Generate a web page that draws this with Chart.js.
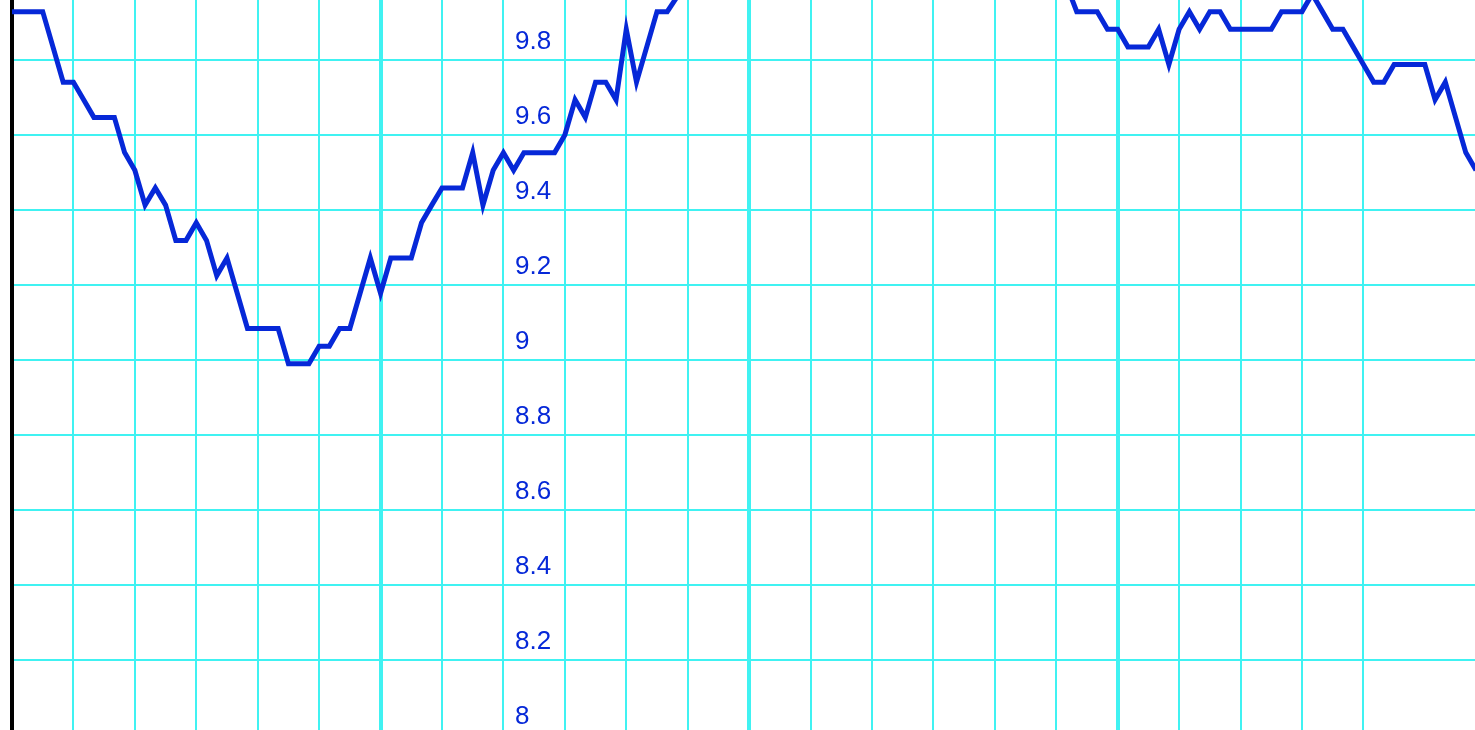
<!DOCTYPE html>
<html lang="en">
<head>
    <meta charset="UTF-8">
    <title>Line Chart</title>
    <script src="https://cdn.jsdelivr.net/npm/chart.js"></script>
    <style>
        html, body {
            margin: 0;
            padding: 0;
            overflow: hidden;
            background: #ffffff;
        }

        /* a little taller than the window: the 8 gridline sits just below the fold */
        .chart-container {
            position: absolute;
            left: 0;
            top: 0;
            width: 1475px;
            height: 735px;
        }
    </style>
</head>
<body>
    <div class="chart-container">
        <canvas id="line-chart"></canvas>
    </div>

    <script>
        // Series values, one per sample (the middle run is above the visible window)
        const values = [
            9.929, 9.929, 9.929, 9.929, 9.835, 9.741, 9.741, 9.694, 9.647, 9.647,
            9.647, 9.553, 9.506, 9.413, 9.459, 9.413, 9.319, 9.319, 9.366, 9.319,
            9.225, 9.272, 9.178, 9.084, 9.084, 9.084, 9.084, 8.990, 8.990, 8.990,
            9.037, 9.037, 9.084, 9.084, 9.178, 9.272, 9.178, 9.272, 9.272, 9.272,
            9.366, 9.413, 9.459, 9.459, 9.459, 9.553, 9.413, 9.506, 9.553, 9.506,
            9.553, 9.553, 9.553, 9.553, 9.600, 9.694, 9.647, 9.741, 9.741, 9.694,
            9.882, 9.741, 9.835, 9.929, 9.929, 9.970, 10.02, 10.06, 10.10, 10.15,
            10.20, 10.24, 10.29, 10.33, 10.36, 10.40, 10.43, 10.45, 10.48, 10.50,
            10.51, 10.52, 10.52, 10.50, 10.49, 10.47, 10.45, 10.42, 10.40, 10.37,
            10.33, 10.30, 10.27, 10.24, 10.20, 10.17, 10.14, 10.11, 10.08, 10.06,
            10.04, 10.02, 10.01, 10.00, 9.929, 9.929, 9.929, 9.882, 9.882, 9.835,
            9.835, 9.835, 9.882, 9.788, 9.882, 9.929, 9.882, 9.929, 9.929, 9.882,
            9.882, 9.882, 9.882, 9.882, 9.929, 9.929, 9.929, 9.976, 9.929, 9.882,
            9.882, 9.835, 9.788, 9.741, 9.741, 9.788, 9.788, 9.788, 9.788, 9.694,
            9.741, 9.647, 9.553, 9.506
        ];

        // Sample numbers along the x axis
        const samples = values.map((v, i) => i);

        // Visible window
        const xMin = 0;
        const xMax = 142.9;
        const yMin = 8;
        const yMax = 9.96;

        // Grid steps
        const xStep = 6;
        const xMajorStep = 36;
        const yStep = 0.2;

        const lineColor = '#0628d8';
        const gridColor = '#40f2f2';

        function isMultiple(value, step) {
            const q = value / step;
            return Math.abs(q - Math.round(q)) < 1e-6;
        }

        const ctx = document.getElementById('line-chart').getContext('2d');
        const chart = new Chart(ctx, {
            type: 'line',
            data: {
                labels: samples,
                datasets: [{
                    data: values,
                    borderColor: lineColor,
                    borderWidth: 5,
                    pointRadius: 0,
                    tension: 0,
                    fill: false
                }]
            },
            options: {
                responsive: true,
                maintainAspectRatio: false,
                animation: false,
                layout: {
                    padding: { left: 12, top: 0, right: 0, bottom: 0 }
                },
                plugins: {
                    legend: { display: false },
                    tooltip: { enabled: false }
                },
                scales: {
                    x: {
                        type: 'linear',
                        min: xMin,
                        max: xMax,
                        ticks: { display: false, stepSize: xStep },
                        border: { display: false },
                        afterBuildTicks: (axis) => {
                            axis.ticks = axis.ticks.filter(t => isMultiple(t.value, xStep));
                        },
                        grid: {
                            drawTicks: false,
                            color: (c) => c.tick && c.tick.value === 0 ? 'rgba(0,0,0,0)' : gridColor,
                            lineWidth: (c) => c.tick && isMultiple(c.tick.value, xMajorStep) ? 4 : 2
                        }
                    },
                    y: {
                        type: 'linear',
                        position: 'left',
                        min: yMin,
                        max: yMax,
                        // labels sit inside the plot, part way across
                        ticks: {
                            stepSize: yStep,
                            mirror: true,
                            padding: 503,
                            labelOffset: -18,
                            color: lineColor,
                            font: { family: '"Liberation Sans", Arial, sans-serif', size: 26 },
                            callback: (value) => String(Math.round(value * 10) / 10)
                        },
                        afterBuildTicks: (axis) => {
                            axis.ticks = axis.ticks.filter(t => isMultiple(t.value, yStep));
                        },
                        afterFit: (axis) => {
                            axis.width = 0;
                            axis.paddingTop = 0;
                            axis.paddingBottom = 0;
                        },
                        border: { display: true, color: '#000000', width: 4 },
                        grid: {
                            drawTicks: false,
                            color: gridColor,
                            lineWidth: 2
                        }
                    }
                }
            }
        });
    </script>
</body>
</html>
